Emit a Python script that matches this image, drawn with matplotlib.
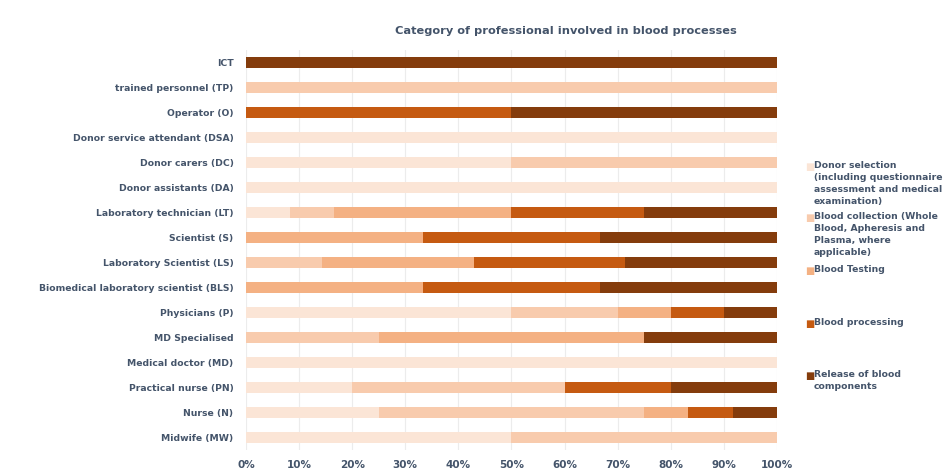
import matplotlib.pyplot as plt
import numpy as np

# categorias (de abajo hacia arriba, como en el eje)
roles = ["Midwife (MW)", "Nurse (N)", "Practical nurse (PN)", "Medical doctor (MD)",
         "MD Specialised", "Physicians (P)", "Biomedical laboratory scientist (BLS)",
         "Laboratory Scientist (LS)", "Scientist (S)", "Laboratory technician (LT)",
         "Donor assistants (DA)", "Donor carers (DC)", "Donor service attendant (DSA)",
         "Operator (O)", "trained personnel (TP)", "ICT"]

# porcentajes por proceso, mismo orden que roles
selection  = [50, 25, 20, 100, 0, 50, 0, 0, 0, 8.33, 100, 50, 100, 0, 0, 0]
collection = [50, 50, 40, 0, 25, 20, 0, 14.29, 0, 8.33, 0, 50, 0, 0, 100, 0]
testing    = [0, 8.33, 0, 0, 50, 10, 33.33, 28.57, 33.33, 33.33, 0, 0, 0, 0, 0, 0]
processing = [0, 8.33, 20, 0, 0, 10, 33.33, 28.57, 33.33, 25, 0, 0, 0, 50, 0, 0]
release    = [0, 8.33, 20, 0, 25, 10, 33.33, 28.57, 33.33, 25, 0, 0, 0, 50, 0, 100]

series = [selection, collection, testing, processing, release]
labels = ["Donor selection\n(including questionnaire\nassessment and medical\nexamination)",
          "Blood collection (Whole\nBlood, Apheresis and\nPlasma, where\napplicable)",
          "Blood Testing", "Blood processing", "Release of blood\ncomponents"]
colors = ["#fbe5d6", "#f8cbad", "#f4b183", "#c55a11", "#843c0c"]

txt = "#44546a"
plt.rcParams['font.family'] = 'DejaVu Sans'
plt.rcParams['font.weight'] = 'bold'

fig = plt.figure(figsize=(9.45, 4.72), dpi=100)
ax = fig.add_axes([0.2603, 0.0456, 0.5619, 0.8475])

y = np.arange(len(roles))
left = np.zeros(len(roles))
for vals, c in zip(series, colors):
    vals = np.array(vals)
    ax.barh(y, vals, left=left, height=0.44, color=c, zorder=2)
    left += vals

ax.set_xlim(0, 100)
ax.set_ylim(-0.5, len(roles) - 0.5)
ax.set_yticks(y)
ax.set_yticklabels(roles, fontsize=6.7, color=txt, fontweight='bold')
ax.set_xticks(np.arange(0, 101, 10))
ax.set_xticklabels([f"{v}%" for v in range(0, 101, 10)], fontsize=7.5, color=txt, fontweight='bold')
ax.tick_params(length=0, axis='y', pad=9)
ax.tick_params(length=0, axis='x', pad=7)
ax.grid(axis='x', color='#ececec', linewidth=0.8, zorder=0)
for s in ax.spines.values():
    s.set_visible(False)

fig.text(0.5985, 0.935, "Category of professional involved in blood processes",
         ha='center', va='center', fontsize=8.2, color=txt, fontweight='bold')

# leyenda a mano: el cuadrito va alineado con la primera linea (como en Excel)
leg_y = [167, 218, 271, 324, 376]
for ly, lab, c in zip(leg_y, labels, colors):
    fig.text(805 / 945, 1 - ly / 472, "■", color=c, fontsize=7, va='center', ha='left')
    fig.text(814 / 945, 1 - (ly - 6) / 472, lab, color=txt, fontsize=6.7,
             va='top', ha='left', fontweight='bold', linespacing=1.45)

fig.savefig("out.png", dpi=100)
